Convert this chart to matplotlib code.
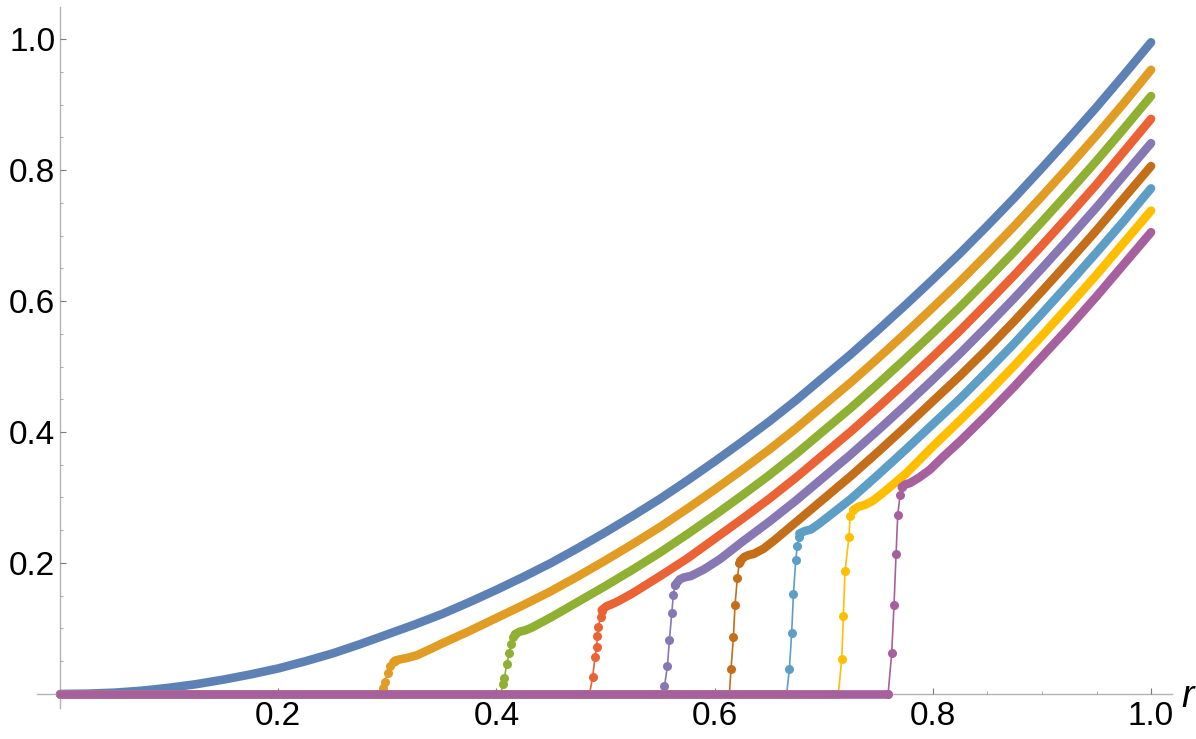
import matplotlib
matplotlib.use("Agg")
import matplotlib.pyplot as plt
from matplotlib.ticker import MultipleLocator, FixedLocator
import numpy as np

# Mathematica-like default palette, one colour per curve
colors = ["#5E81B5", "#E19C24", "#8FB032", "#EB6235", "#8778B3",
          "#C56E1A", "#5D9EC7", "#FFBF00", "#A5609D"]

# blue curve (no jump)
r_blue = [0.0, 0.025, 0.05, 0.075, 0.1, 0.125, 0.15, 0.175, 0.2, 0.225, 0.25,
          0.275, 0.3, 0.325, 0.35, 0.375, 0.4, 0.425, 0.45, 0.475, 0.5, 0.525,
          0.55, 0.575, 0.6, 0.625, 0.65, 0.675, 0.7, 0.725, 0.75, 0.775, 0.8,
          0.825, 0.85, 0.875, 0.9, 0.925, 0.95, 0.975, 1.0]
y_blue = [0.0, 0.0005, 0.002, 0.005, 0.0095, 0.015, 0.022, 0.030, 0.039, 0.050,
          0.062, 0.076, 0.091, 0.106, 0.122, 0.140, 0.159, 0.179, 0.200, 0.223,
          0.247, 0.272, 0.298, 0.326, 0.355, 0.385, 0.416, 0.449, 0.484, 0.519,
          0.556, 0.594, 0.633, 0.673, 0.715, 0.758, 0.803, 0.849, 0.896, 0.945,
          0.995]

# orange
jump_x_orange = [0.2945, 0.2957, 0.2979, 0.3003, 0.3025, 0.3050, 0.3070]
jump_y_orange = [0.0, 0.009, 0.019, 0.032, 0.042, 0.049, 0.051]
r_orange = [0.307, 0.312, 0.318, 0.327, 0.34, 0.35, 0.375, 0.4, 0.425, 0.45,
            0.475, 0.5, 0.525, 0.55, 0.575, 0.6, 0.625, 0.65, 0.675, 0.7,
            0.725, 0.75, 0.775, 0.8, 0.825, 0.85, 0.875, 0.9, 0.925, 0.95,
            0.975, 1.0]
y_orange = [0.051, 0.053, 0.055, 0.059, 0.069, 0.077, 0.096, 0.116, 0.136,
            0.157, 0.180, 0.204, 0.229, 0.255, 0.283, 0.312, 0.342, 0.373,
            0.406, 0.441, 0.476, 0.513, 0.551, 0.590, 0.630, 0.672, 0.715,
            0.760, 0.806, 0.853, 0.902, 0.953]

# green
jump_x_green = [0.404, 0.4058, 0.4073, 0.4094, 0.4118, 0.4131, 0.4150, 0.4170]
jump_y_green = [0.0, 0.015, 0.024, 0.046, 0.062, 0.076, 0.087, 0.091]
r_green = [0.417, 0.421, 0.426, 0.432, 0.45, 0.475, 0.5, 0.525, 0.55, 0.575,
           0.6, 0.625, 0.65, 0.675, 0.7, 0.725, 0.75, 0.775, 0.8, 0.825,
           0.85, 0.875, 0.9, 0.925, 0.95, 0.975, 1.0]
y_green = [0.091, 0.095, 0.097, 0.101, 0.117, 0.141, 0.165, 0.190, 0.216,
           0.244, 0.273, 0.303, 0.334, 0.367, 0.402, 0.437, 0.474, 0.512,
           0.551, 0.591, 0.633, 0.676, 0.721, 0.767, 0.814, 0.863, 0.913]

# red
jump_x_red = [0.4853, 0.4882, 0.4904, 0.4919, 0.4925, 0.4934, 0.4956, 0.4965]
jump_y_red = [0.0, 0.026, 0.057, 0.072, 0.089, 0.103, 0.118, 0.126]
r_red = [0.4965, 0.501, 0.5056, 0.512, 0.525, 0.55, 0.575, 0.6, 0.625, 0.65,
         0.675, 0.7, 0.725, 0.75, 0.775, 0.8, 0.825, 0.85, 0.875, 0.9, 0.925,
         0.95, 0.975, 1.0]
y_red = [0.128, 0.134, 0.137, 0.142, 0.154, 0.180, 0.207, 0.237, 0.267,
         0.298, 0.331, 0.366, 0.401, 0.438, 0.476, 0.515, 0.555, 0.597,
         0.640, 0.685, 0.731, 0.778, 0.828, 0.878]

# purple
jump_x_purple = [0.553, 0.554, 0.5567, 0.5585, 0.5607, 0.5621, 0.5637]
jump_y_purple = [0.0, 0.012, 0.042, 0.082, 0.123, 0.151, 0.166]
r_purple = [0.5637, 0.568, 0.572, 0.578, 0.59, 0.605, 0.625, 0.65, 0.675,
            0.7, 0.725, 0.75, 0.775, 0.8, 0.825, 0.85, 0.875, 0.9, 0.925,
            0.95, 0.975, 1.0]
y_purple = [0.166, 0.175, 0.178, 0.180, 0.190, 0.206, 0.232, 0.263, 0.296,
            0.331, 0.366, 0.403, 0.441, 0.480, 0.520, 0.562, 0.605, 0.650,
            0.696, 0.743, 0.792, 0.841]

# brown
jump_x_brown = [0.6135, 0.6150, 0.6172, 0.6187, 0.6208, 0.6227, 0.6235]
jump_y_brown = [0.0, 0.038, 0.087, 0.136, 0.177, 0.200, 0.203]
r_brown = [0.6235, 0.627, 0.631, 0.636, 0.645, 0.655, 0.675, 0.7, 0.725, 0.75,
           0.775, 0.8, 0.825, 0.85, 0.875, 0.9, 0.925, 0.95, 0.975, 1.0]
y_brown = [0.203, 0.209, 0.212, 0.214, 0.222, 0.235, 0.263, 0.298, 0.333,
           0.370, 0.408, 0.447, 0.486, 0.527, 0.570, 0.615, 0.661, 0.708,
           0.757, 0.806]

# light blue
jump_x_lblue = [0.666, 0.6685, 0.6706, 0.6722, 0.6743, 0.6758, 0.6777]
jump_y_lblue = [0.0, 0.038, 0.093, 0.152, 0.204, 0.226, 0.240]
r_lblue = [0.6777, 0.683, 0.688, 0.695, 0.712, 0.725, 0.75, 0.775, 0.8, 0.825,
           0.85, 0.875, 0.9, 0.925, 0.95, 0.975, 1.0]
y_lblue = [0.245, 0.249, 0.251, 0.259, 0.281, 0.298, 0.335, 0.373, 0.412,
           0.451, 0.493, 0.536, 0.581, 0.627, 0.674, 0.722, 0.772]

# yellow
jump_x_yellow = [0.7134, 0.7165, 0.7180, 0.7195, 0.7232, 0.7241, 0.727]
jump_y_yellow = [0.0, 0.053, 0.119, 0.188, 0.240, 0.271, 0.281]
r_yellow = [0.727, 0.732, 0.738, 0.745, 0.755, 0.775, 0.8, 0.825, 0.85, 0.875,
            0.9, 0.925, 0.95, 0.975, 1.0]
y_yellow = [0.281, 0.286, 0.289, 0.295, 0.308, 0.336, 0.378, 0.418, 0.459,
            0.502, 0.547, 0.593, 0.640, 0.689, 0.738]

# magenta
jump_x_magenta = [0.759, 0.7623, 0.7644, 0.7663, 0.7678, 0.770, 0.7715]
jump_y_magenta = [0.0, 0.063, 0.136, 0.214, 0.273, 0.304, 0.316]
r_magenta = [0.7715, 0.775, 0.779, 0.787, 0.797, 0.81, 0.825, 0.85, 0.875,
             0.9, 0.925, 0.95, 0.975, 1.0]
y_magenta = [0.316, 0.320, 0.322, 0.330, 0.342, 0.363, 0.386, 0.427, 0.470,
             0.515, 0.560, 0.607, 0.656, 0.705]

jumps = [(jump_x_orange, jump_y_orange, r_orange, y_orange),
         (jump_x_green, jump_y_green, r_green, y_green),
         (jump_x_red, jump_y_red, r_red, y_red),
         (jump_x_purple, jump_y_purple, r_purple, y_purple),
         (jump_x_brown, jump_y_brown, r_brown, y_brown),
         (jump_x_lblue, jump_y_lblue, r_lblue, y_lblue),
         (jump_x_yellow, jump_y_yellow, r_yellow, y_yellow),
         (jump_x_magenta, jump_y_magenta, r_magenta, y_magenta)]

plt.rcParams.update({'font.family': ['Liberation Sans', 'DejaVu Sans']})
plt.rcParams.update({'font.size': 24})

fig = plt.figure(figsize=(11.96, 7.39), dpi=100)
ax = fig.add_axes([37 / 1196, 31 / 739, 1135 / 1196, 701 / 739])

lw = 6.2
ax.plot(r_blue, y_blue, color=colors[0], lw=lw, solid_capstyle='round',
        solid_joinstyle='round')
for i, (jx, jy, cx, cy) in enumerate(jumps):
    c = colors[i + 1]
    # flat part at zero
    ax.plot([0.0, jx[0]], [0.0, 0.0], color=c, lw=lw, solid_capstyle='round')
    # sparse points in the jump
    ax.plot(jx, jy, color=c, lw=1.2, marker='o', markersize=6.5,
            markeredgewidth=0)
    # dense part after the jump
    ax.plot(cx, cy, color=c, lw=lw, solid_capstyle='round',
            solid_joinstyle='round')

ax.set_xlim(-0.0211, 1.0192)
ax.set_ylim(-0.0214, 1.0489)

for s in ['top', 'right']:
    ax.spines[s].set_visible(False)
ax.spines['left'].set_position(('data', 0))
ax.spines['bottom'].set_position(('data', 0))
for s in ['left', 'bottom']:
    ax.spines[s].set_color('#b3b3b3')
    ax.spines[s].set_linewidth(1.0)
    ax.spines[s].set_zorder(0.5)

ticks = [0.2, 0.4, 0.6, 0.8, 1.0]
ax.xaxis.set_major_locator(FixedLocator(ticks))
ax.yaxis.set_major_locator(FixedLocator(ticks))
ax.xaxis.set_minor_locator(MultipleLocator(0.05))
ax.yaxis.set_minor_locator(MultipleLocator(0.05))
ax.set_xticklabels(["0.2", "0.4", "0.6", "0.8", "1.0"])
ax.set_yticklabels(["0.2", "0.4", "0.6", "0.8", "1.0"])
ax.tick_params(which='major', direction='in', length=4, width=0.8,
               color='#7a7a7a', labelsize=24)
ax.tick_params(which='minor', direction='in', length=2.5, width=0.6,
               color='#9a9a9a')
ax.tick_params(axis='x', which='major', pad=5)
ax.tick_params(axis='y', which='major', pad=3.5)

ax.text(1.028, -0.02, "r", fontsize=27, style='italic', ha='left',
        va='baseline', clip_on=False)

fig.savefig("out.png", dpi=100)
